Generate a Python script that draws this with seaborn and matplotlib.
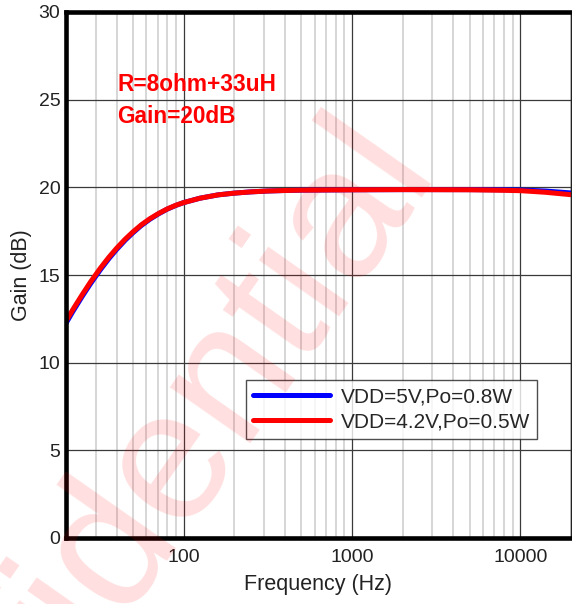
#! /usr/bin/env python3

import pandas as pd
import numpy as np
import matplotlib
matplotlib.use('Agg')
import matplotlib.pyplot as plt
from matplotlib.ticker import LogLocator, FixedLocator, NullFormatter
import seaborn as sns

# values
freq = [20, 22, 25, 28, 32, 36, 40, 45, 50, 56, 63, 71, 80, 90, 100, 125, 160,
        200, 250, 315, 400, 500, 700, 1000, 2000, 5000, 8000, 10000, 14000, 20000]
gain_5v = [12.25, 12.93, 13.79, 14.51, 15.30, 15.94, 16.46, 16.99, 17.41, 17.82,
           18.18, 18.49, 18.76, 18.97, 19.13, 19.38, 19.57, 19.67, 19.74, 19.79,
           19.82, 19.84, 19.85, 19.86, 19.87, 19.87, 19.86, 19.85, 19.79, 19.68]
gain_42v = [12.37, 13.04, 13.89, 14.61, 15.39, 16.02, 16.53, 17.05, 17.46, 17.86,
            18.21, 18.51, 18.77, 18.98, 19.13, 19.38, 19.57, 19.67, 19.74, 19.79,
            19.82, 19.84, 19.85, 19.86, 19.87, 19.86, 19.83, 19.81, 19.72, 19.58]
labels = ['VDD=5V,Po=0.8W', 'VDD=4.2V,Po=0.5W']
colors = ['#0000ff', '#ff0000']
y_ticks = [0, 5, 10, 15, 20, 25, 30]
x_ticks = [100, 1000, 10000]
notes = ['R=8ohm+33uH', 'Gain=20dB']

sns.set_style("white")
plt.rcParams['font.family'] = ['Liberation Sans', 'DejaVu Sans']

fig = plt.figure(figsize=(5.72, 6.04), dpi=100)
ax = fig.add_axes([66 / 572, 66 / 604, 505 / 572, 526 / 604])

# watermark behind everything
fig.text(0.200, 0.105, 'Confidential', fontsize=134, color='#ff0000', alpha=0.13,
         rotation=55, rotation_mode='anchor', ha='center', va='center', zorder=0)
ax.set_facecolor('none')

for g, lab, c in zip([gain_5v, gain_42v], labels, colors):
    sns.lineplot(x=freq, y=g, ax=ax, color=c, linewidth=3.6, label=lab)

ax.set_xscale('log')
ax.set_xlim(20, 20000)
ax.set_ylim(0, 30)
ax.set_yticks(y_ticks)
ax.xaxis.set_major_locator(FixedLocator(x_ticks))
ax.set_xticklabels([str(t) for t in x_ticks])
ax.xaxis.set_minor_locator(LogLocator(base=10, subs=np.arange(2, 10)))
ax.xaxis.set_minor_formatter(NullFormatter())

ax.grid(True, which='minor', axis='x', color='#cfcfcf', linewidth=1.2)
ax.grid(True, which='major', axis='both', color='#3a3a3a', linewidth=0.9)
ax.set_axisbelow(True)

ax.tick_params(axis='both', which='both', direction='in', labelsize=14,
               colors='#222222', length=4, width=0.8, pad=8)
ax.tick_params(axis='y', length=0, pad=4)

for side in ['left', 'bottom', 'top']:
    ax.spines[side].set_linewidth(3.3)
    ax.spines[side].set_color('black')
ax.spines['right'].set_linewidth(1.0)
ax.spines['right'].set_color('#222222')

ax.set_xlabel('Frequency (Hz)', fontsize=15.5, color='#222222', labelpad=6)
ax.set_ylabel('Gain (dB)', fontsize=15.5, color='#222222', labelpad=5)

ax.text(0.101, 0.863, notes[0], transform=ax.transAxes, color='#ff0000',
        fontsize=16.3, fontweight='bold', va='center')
ax.text(0.101, 0.801, notes[1], transform=ax.transAxes, color='#ff0000',
        fontsize=16.3, fontweight='bold', va='center')

leg = ax.legend(loc='upper left', bbox_to_anchor=(0.356, 0.300), fontsize=15,
                frameon=True, fancybox=False, handlelength=3.7, borderpad=0.35,
                labelspacing=0.3, handletextpad=0.5, borderaxespad=0)
leg.get_frame().set_edgecolor('#222222')
leg.get_frame().set_linewidth(1.0)
for line in leg.get_lines():
    line.set_linewidth(3.6)

plt.savefig('out.png', dpi=100)
